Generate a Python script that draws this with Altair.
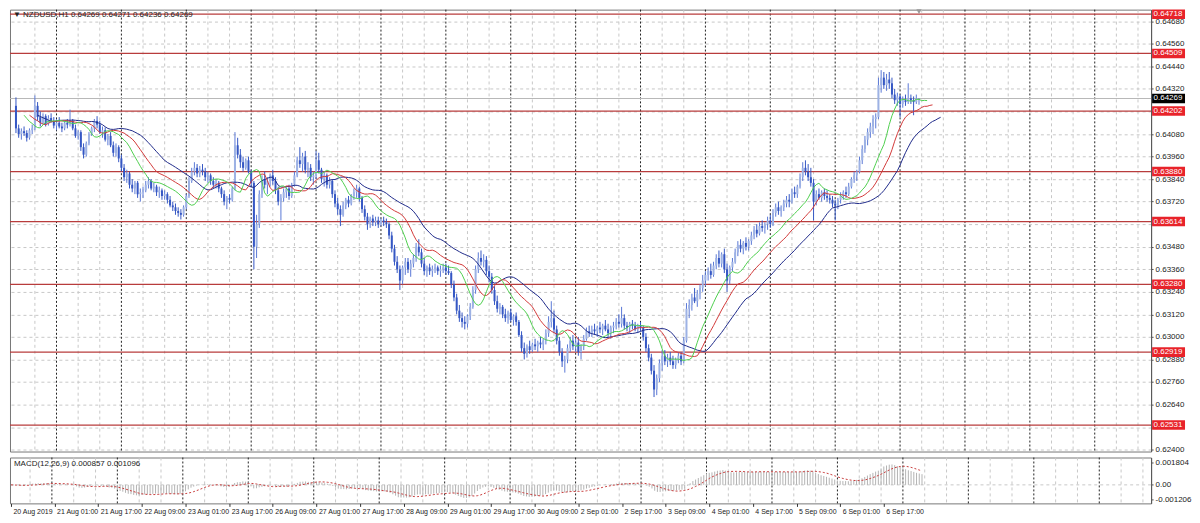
import altair as alt
import pandas as pd
import numpy as np

# ---------------- data (prices as 0.60000 + value * 0.00001) ----------------
opens = [
    4230, 4110, 4080, 4095, 4085, 4060, 4100, 4110, 4230, 4170, 4140, 4175, 4135, 4165, 4150, 4125,
    4140, 4120, 4110, 4140, 4130, 4150, 4110, 4070, 4090, 4010, 3970, 4030, 4080, 4110, 4150, 4130,
    4090, 4100, 4050, 4070, 4020, 3980, 4010, 3950, 3900, 3850, 3870, 3810, 3790, 3820, 3760, 3770,
    3780, 3810, 3830, 3790, 3800, 3770, 3780, 3750, 3760, 3730, 3700, 3690, 3670, 3660, 3650, 3690,
    3750, 3830, 3880, 3900, 3870, 3890, 3880, 3850, 3860, 3830, 3810, 3820, 3790, 3760, 3720, 3740,
    3730, 3790, 4020, 3970, 3930, 3900, 3940, 3880, 3820, 3480, 3600, 3760, 3840, 3810, 3830, 3860,
    3830, 3780, 3720, 3740, 3770, 3790, 3750, 3810, 3860, 3940, 3920, 3960, 3890, 3900, 3850, 3860,
    3940, 3890, 3840, 3860, 3810, 3830, 3760, 3710, 3680, 3650, 3700, 3730, 3710, 3750, 3770, 3790,
    3740, 3680, 3640, 3600, 3630, 3610, 3620, 3600, 3620, 3610, 3600, 3540, 3470, 3400, 3360, 3300,
    3370, 3400, 3360, 3390, 3420, 3480, 3450, 3390, 3350, 3370, 3350, 3360, 3370, 3350, 3360, 3370,
    3350, 3340, 3280, 3210, 3140, 3100, 3080, 3070, 3110, 3160, 3250, 3360, 3420, 3400, 3410, 3350,
    3320, 3250, 3190, 3150, 3160, 3120, 3100, 3130, 3090, 3110, 3080, 3010, 2940, 2910, 2950, 2930,
    2960, 2950, 2970, 2960, 2980, 3020, 3080, 3100, 3040, 2980, 2920, 2870, 2880, 2940, 2980, 2950,
    2970, 2920, 2950, 2990, 3030, 3020, 3040, 3030, 3050, 3040, 3060, 3040, 3020, 3050, 3060, 3080,
    3070, 3100, 3060, 3050, 3070, 3060, 3040, 3060, 3050, 3000, 2940, 2890, 2820, 2720, 2780, 2860,
    2900, 2870, 2890, 2870, 2850, 2880, 2900, 2870, 2980, 3150, 3170, 3210, 3190, 3230, 3260, 3300,
    3330, 3350, 3330, 3380, 3420, 3390, 3440, 3360, 3300, 3370, 3400, 3450, 3490, 3470, 3500, 3480,
    3510, 3540, 3570, 3550, 3590, 3580, 3600, 3620, 3600, 3660, 3690, 3670, 3690, 3710, 3730, 3720,
    3770, 3760, 3800, 3850, 3900, 3880, 3850, 3820, 3720, 3760, 3740, 3770, 3750, 3740, 3730, 3710,
    3700, 3730, 3750, 3770, 3760, 3800, 3840, 3860, 3880, 3940, 4000, 4050, 4090, 4120, 4160, 4170,
    4340, 4380, 4340, 4370, 4350, 4290, 4260, 4280, 4240, 4260, 4250, 4270, 4260, 4250, 4269,
]
highs = [
    4275, 4130, 4110, 4120, 4100, 4110, 4130, 4285, 4250, 4200, 4190, 4185, 4180, 4190, 4170, 4160,
    4170, 4140, 4150, 4160, 4210, 4160, 4130, 4100, 4100, 4030, 4040, 4090, 4120, 4160, 4175, 4150,
    4120, 4115, 4080, 4090, 4040, 4030, 4020, 3970, 3920, 3890, 3880, 3840, 3830, 3830, 3790, 3800,
    3830, 3850, 3840, 3820, 3810, 3800, 3790, 3780, 3770, 3750, 3720, 3710, 3690, 3680, 3700, 3760,
    3850, 3900, 3930, 3920, 3910, 3920, 3900, 3880, 3870, 3850, 3840, 3830, 3800, 3780, 3750, 3760,
    3800, 4090, 4060, 4000, 3960, 3950, 3960, 3890, 3830, 3650, 3780, 3860, 3880, 3850, 3870, 3890,
    3850, 3800, 3760, 3790, 3800, 3810, 3820, 3880, 3960, 4010, 3980, 3990, 3930, 3920, 3880, 3990,
    3980, 3900, 3880, 3870, 3850, 3840, 3780, 3740, 3700, 3720, 3740, 3750, 3760, 3790, 3810, 3800,
    3750, 3700, 3660, 3640, 3650, 3640, 3640, 3630, 3640, 3630, 3610, 3560, 3490, 3430, 3380, 3380,
    3420, 3420, 3410, 3440, 3500, 3520, 3470, 3420, 3380, 3390, 3380, 3390, 3380, 3380, 3390, 3390,
    3380, 3350, 3300, 3230, 3170, 3130, 3110, 3120, 3180, 3270, 3380, 3450, 3460, 3440, 3430, 3380,
    3340, 3270, 3220, 3180, 3170, 3150, 3140, 3150, 3120, 3130, 3090, 3030, 2970, 2960, 2980, 2970,
    2990, 2980, 3000, 2990, 3040, 3110, 3190, 3140, 3060, 3000, 2940, 2900, 2960, 3000, 3010, 2990,
    3000, 2960, 3010, 3050, 3060, 3060, 3070, 3060, 3080, 3070, 3090, 3070, 3060, 3080, 3100, 3120,
    3160, 3120, 3080, 3080, 3090, 3080, 3070, 3080, 3060, 3020, 2960, 2910, 2850, 2800, 2880, 2930,
    2930, 2910, 2920, 2900, 2890, 2920, 2920, 3000, 3180, 3200, 3230, 3260, 3250, 3280, 3330, 3350,
    3370, 3390, 3400, 3440, 3460, 3450, 3470, 3390, 3380, 3420, 3470, 3510, 3520, 3510, 3530, 3520,
    3560, 3590, 3600, 3610, 3620, 3610, 3640, 3650, 3680, 3710, 3720, 3700, 3730, 3750, 3760, 3790,
    3800, 3810, 3870, 3930, 3940, 3920, 3900, 3840, 3780, 3790, 3780, 3790, 3780, 3760, 3750, 3730,
    3740, 3770, 3780, 3800, 3820, 3850, 3880, 3890, 3960, 4020, 4070, 4110, 4140, 4180, 4190, 4380,
    4420, 4410, 4400, 4410, 4380, 4320, 4300, 4290, 4280, 4290, 4350, 4290, 4280, 4290, 4271,
]
lows = [
    4085, 4060, 4050, 4070, 4040, 4050, 4080, 4100, 4150, 4120, 4130, 4120, 4125, 4140, 4110, 4100,
    4110, 4090, 4100, 4110, 4120, 4100, 4060, 4050, 3990, 3950, 3960, 4020, 4070, 4090, 4110, 4080,
    4060, 4040, 4020, 4010, 3960, 3960, 3930, 3880, 3830, 3820, 3790, 3770, 3760, 3740, 3720, 3740,
    3770, 3790, 3780, 3770, 3750, 3740, 3730, 3730, 3710, 3690, 3670, 3650, 3640, 3625, 3640, 3680,
    3740, 3820, 3860, 3850, 3850, 3860, 3830, 3820, 3810, 3790, 3790, 3770, 3740, 3700, 3680, 3710,
    3720, 3780, 3950, 3900, 3880, 3890, 3870, 3800, 3360, 3420, 3580, 3740, 3790, 3760, 3800, 3810,
    3760, 3700, 3620, 3720, 3740, 3730, 3740, 3800, 3850, 3900, 3880, 3870, 3850, 3830, 3810, 3840,
    3870, 3820, 3800, 3790, 3790, 3740, 3690, 3650, 3590, 3640, 3680, 3690, 3700, 3730, 3740, 3720,
    3660, 3620, 3570, 3580, 3590, 3590, 3580, 3590, 3590, 3580, 3520, 3450, 3380, 3340, 3250, 3280,
    3330, 3340, 3320, 3370, 3400, 3430, 3370, 3330, 3320, 3330, 3320, 3340, 3330, 3320, 3340, 3330,
    3330, 3260, 3190, 3120, 3080, 3050, 3040, 3050, 3090, 3150, 3230, 3340, 3380, 3370, 3330, 3290,
    3230, 3170, 3130, 3120, 3100, 3080, 3070, 3080, 3060, 3060, 3000, 2920, 2880, 2890, 2910, 2920,
    2930, 2920, 2940, 2930, 2960, 3000, 3050, 3020, 2960, 2900, 2840, 2810, 2860, 2920, 2930, 2920,
    2900, 2880, 2930, 2980, 3000, 3000, 3010, 3000, 3020, 3010, 3030, 3000, 2990, 3020, 3040, 3050,
    3050, 3040, 3030, 3020, 3040, 3030, 3020, 3030, 2980, 2920, 2870, 2800, 2680, 2690, 2760, 2820,
    2850, 2840, 2850, 2830, 2830, 2860, 2850, 2860, 2970, 3100, 3140, 3180, 3160, 3200, 3240, 3270,
    3300, 3310, 3320, 3360, 3370, 3370, 3340, 3240, 3280, 3350, 3390, 3430, 3450, 3440, 3460, 3460,
    3490, 3520, 3530, 3540, 3560, 3550, 3570, 3580, 3590, 3640, 3650, 3640, 3670, 3690, 3690, 3710,
    3740, 3740, 3790, 3830, 3860, 3830, 3800, 3620, 3700, 3730, 3720, 3730, 3720, 3710, 3690, 3620,
    3680, 3710, 3730, 3740, 3750, 3790, 3820, 3830, 3870, 3920, 3980, 4020, 4060, 4080, 4110, 4160,
    4300, 4320, 4310, 4320, 4270, 4240, 4230, 4170, 4220, 4230, 4240, 4240, 4180, 4240, 4236,
]
closes = [
    4110, 4080, 4095, 4085, 4060, 4100, 4110, 4230, 4170, 4140, 4175, 4135, 4165, 4150, 4125, 4140,
    4120, 4110, 4140, 4130, 4150, 4110, 4070, 4090, 4010, 3970, 4030, 4080, 4110, 4150, 4130, 4090,
    4100, 4050, 4070, 4020, 3980, 4010, 3950, 3900, 3850, 3870, 3810, 3790, 3820, 3760, 3770, 3780,
    3810, 3830, 3790, 3800, 3770, 3780, 3750, 3760, 3730, 3700, 3690, 3670, 3660, 3650, 3690, 3750,
    3830, 3880, 3900, 3870, 3890, 3880, 3850, 3860, 3830, 3810, 3820, 3790, 3760, 3720, 3740, 3730,
    3790, 4020, 3970, 3930, 3900, 3940, 3880, 3820, 3480, 3600, 3760, 3840, 3810, 3830, 3860, 3830,
    3780, 3720, 3740, 3770, 3790, 3750, 3810, 3860, 3940, 3920, 3960, 3890, 3900, 3850, 3860, 3940,
    3890, 3840, 3860, 3810, 3830, 3760, 3710, 3680, 3650, 3700, 3730, 3710, 3750, 3770, 3790, 3740,
    3680, 3640, 3600, 3630, 3610, 3620, 3600, 3620, 3610, 3600, 3540, 3470, 3400, 3360, 3300, 3370,
    3400, 3360, 3390, 3420, 3480, 3450, 3390, 3350, 3370, 3350, 3360, 3370, 3350, 3360, 3370, 3350,
    3340, 3280, 3210, 3140, 3100, 3080, 3070, 3110, 3160, 3250, 3360, 3420, 3400, 3410, 3350, 3320,
    3250, 3190, 3150, 3160, 3120, 3100, 3130, 3090, 3110, 3080, 3010, 2940, 2910, 2950, 2930, 2960,
    2950, 2970, 2960, 2980, 3020, 3080, 3100, 3040, 2980, 2920, 2870, 2880, 2940, 2980, 2950, 2970,
    2920, 2950, 2990, 3030, 3020, 3040, 3030, 3050, 3040, 3060, 3040, 3020, 3050, 3060, 3080, 3070,
    3100, 3060, 3050, 3070, 3060, 3040, 3060, 3050, 3000, 2940, 2890, 2820, 2720, 2780, 2860, 2900,
    2870, 2890, 2870, 2850, 2880, 2900, 2870, 2980, 3150, 3170, 3210, 3190, 3230, 3260, 3300, 3330,
    3350, 3330, 3380, 3420, 3390, 3440, 3360, 3300, 3370, 3400, 3450, 3490, 3470, 3500, 3480, 3510,
    3540, 3570, 3550, 3590, 3580, 3600, 3620, 3600, 3660, 3690, 3670, 3690, 3710, 3730, 3720, 3770,
    3760, 3800, 3850, 3900, 3880, 3850, 3820, 3720, 3760, 3740, 3770, 3750, 3740, 3730, 3710, 3700,
    3730, 3750, 3770, 3760, 3800, 3840, 3860, 3880, 3940, 4000, 4050, 4090, 4120, 4160, 4170, 4340,
    4380, 4340, 4370, 4350, 4290, 4260, 4280, 4240, 4260, 4250, 4270, 4260, 4250, 4269, 4269,
]

levels = [0.64718, 0.64509, 0.64202, 0.63880, 0.63614, 0.63280, 0.62919, 0.62531]
current_price = 0.64269
price_ticks = [0.64680, 0.64560, 0.64440, 0.64320, 0.64200, 0.64080, 0.63960, 0.63840,
               0.63720, 0.63600, 0.63480, 0.63360, 0.63240, 0.63120, 0.63000, 0.62880,
               0.62760, 0.62640, 0.62520, 0.62400]
time_labels = ["20 Aug 2019", "21 Aug 01:00", "21 Aug 17:00", "22 Aug 09:00", "23 Aug 01:00",
               "23 Aug 17:00", "26 Aug 09:00", "27 Aug 01:00", "27 Aug 17:00", "28 Aug 09:00",
               "29 Aug 01:00", "29 Aug 17:00", "30 Aug 09:00", "2 Sep 01:00", "2 Sep 17:00",
               "3 Sep 09:00", "4 Sep 01:00", "4 Sep 17:00", "5 Sep 09:00", "6 Sep 01:00",
               "6 Sep 17:00"]
macd_ticks = [0.001804, 0.0, -0.001206]
macd_tick_labels = ["0.001804", "0.00", "-0.001206"]
title_text = "NZDUSD,H1  0.64269 0.64271 0.64236 0.64269"
macd_text = "MACD(12,26,9) 0.000857 0.001096"

# ---------------- frames ----------------
def px(v):
    return np.round(0.6 + np.asarray(v, dtype=float) / 1e5, 5)

n = len(closes)
idx = np.arange(n)
O, H, L, C = px(opens), px(highs), px(lows), px(closes)
bars = pd.DataFrame({"i": idx, "o": O, "h": H, "l": L, "c": C})
bars_up = bars[bars.c >= bars.o]
bars_dn = bars[bars.c < bars.o]

# Alligator (SMMA of median price with forward shifts)
med = (H + L) / 2
def smma(x, p):
    out = np.empty(len(x))
    out[0] = x[0]
    for k in range(1, len(x)):
        out[k] = (out[k - 1] * (p - 1) + x[k]) / p
    return out
jaw = pd.DataFrame({"i": idx + 8, "v": smma(med, 13)})
teeth = pd.DataFrame({"i": idx + 5, "v": smma(med, 8)})
lips = pd.DataFrame({"i": idx + 3, "v": smma(med, 5)})

# MACD(12,26,9)
cs = pd.Series(C)
macd_main = cs.ewm(span=12, adjust=False).mean() - cs.ewm(span=26, adjust=False).mean()
macd_sig = macd_main.rolling(9, min_periods=1).mean()
macd = pd.DataFrame({"i": idx, "m": macd_main.values, "s": macd_sig.values, "z": 0.0})

X_DOMAIN = [-0.36, 418]
grid_gray = pd.DataFrame({"i": [k for k in range(7, 418, 8) if (k - 15) % 24 != 0]})
grid_black = pd.DataFrame({"i": [k for k in range(15, 418, 24)]})

# price-axis labels hidden behind a level's red tag (as in the reference)
hidden = [t for t in price_ticks if any(abs(t - lv) < 0.0002 for lv in levels)]
hidden_arr = "[" + ",".join(f"{t:.5f}" for t in hidden) + "]"

W = 1144
H_MAIN = 443
H_MACD = 46
FONT = "Liberation Sans"

xscale = alt.Scale(domain=X_DOMAIN, nice=False, zero=False)
yscale = alt.Scale(domain=[0.62390, 0.64742], nice=False, zero=False)
yaxis = alt.Axis(orient="right", values=price_ticks, format=".5f",
                 labelExpr="indexof(" + hidden_arr + ", round(datum.value * 100000) / 100000) >= 0 ? '' : datum.label",
                 grid=True, gridColor="#c8c8c8", gridDash=[3, 3], tickSize=2, labelPadding=2,
                 labelFontSize=8, labelFont=FONT, labelColor="#222", domainColor="#555",
                 tickColor="#555", labelOverlap=False, labelBound=False, title=None)

def X(f="i"):
    return alt.X(f"{f}:Q", scale=xscale, axis=None)

def Y(f):
    return alt.Y(f"{f}:Q", scale=yscale, axis=yaxis)

vg = alt.Chart(grid_gray).mark_rule(color="#c8c8c8", strokeDash=[3, 3], strokeWidth=1).encode(x=X())
vb = alt.Chart(grid_black).mark_rule(color="#222", strokeDash=[2, 2], strokeWidth=1).encode(x=X())

lv = pd.DataFrame({"level": levels})
level_lines = alt.Chart(lv).mark_rule(color="#b83c3c", strokeWidth=1.2).encode(y=Y("level"))
cur = pd.DataFrame({"p": [current_price]})
cur_line = alt.Chart(cur).mark_rule(color="#b8b8b8", strokeWidth=1).encode(y=Y("p"))

wick_up = alt.Chart(bars_up).mark_rule(color="#5a78d6", strokeWidth=1).encode(x=X(), y=Y("l"), y2="h")
wick_dn = alt.Chart(bars_dn).mark_rule(color="#3557c4", strokeWidth=1).encode(x=X(), y=Y("l"), y2="h")
body_up = alt.Chart(bars_up).mark_bar(color="#9db2e4", size=2).encode(x=X(), y=Y("o"), y2="c")
body_dn = alt.Chart(bars_dn).mark_bar(color="#3557c4", size=2).encode(x=X(), y=Y("o"), y2="c")

l_jaw = alt.Chart(jaw).mark_line(color="#1f2a8a", strokeWidth=1).encode(x=X(), y=Y("v"))
l_teeth = alt.Chart(teeth).mark_line(color="#d23a3a", strokeWidth=1).encode(x=X(), y=Y("v"))
l_lips = alt.Chart(lips).mark_line(color="#4fcf4f", strokeWidth=1).encode(x=X(), y=Y("v"))

BOX = "M-1,-0.29H1V0.29H-1Z"
lab_box = alt.Chart(lv).mark_point(shape=BOX, filled=True, size=33 * 33, color="#e8232a",
                                   opacity=1, strokeWidth=0).encode(x=alt.value(W + 17.5), y=Y("level"))
lab_txt = alt.Chart(lv).mark_text(align="left", baseline="middle", color="white", fontSize=8,
                                  font=FONT).encode(x=alt.value(W + 2.5), y=Y("level"),
                                                    text=alt.Text("level:Q", format=".5f"))
cur_box = alt.Chart(cur).mark_point(shape=BOX, filled=True, size=33 * 33, color="#000",
                                    opacity=1, strokeWidth=0).encode(x=alt.value(W + 17.5), y=Y("p"))
cur_txt = alt.Chart(cur).mark_text(align="left", baseline="middle", color="white", fontSize=8,
                                   font=FONT).encode(x=alt.value(W + 2.5), y=Y("p"),
                                                     text=alt.Text("p:Q", format=".5f"))

ttl = alt.Chart(pd.DataFrame({"t": ["\u25bc " + title_text]})).mark_text(
    align="left", baseline="middle", fontSize=8, font=FONT, color="#222"
).encode(x=alt.value(3), y=alt.value(5), text="t:N")

shift_mark = alt.Chart(pd.DataFrame({"i": [n - 1]})).mark_point(
    shape="triangle-down", filled=True, color="#999", size=28, opacity=1
).encode(x=X(), y=alt.value(2))

main = alt.layer(
    vg, vb, cur_line, level_lines,
    wick_up, wick_dn, body_up, body_dn,
    l_jaw, l_teeth, l_lips,
    lab_box, lab_txt, cur_box, cur_txt, ttl, shift_mark,
).properties(width=W, height=H_MAIN)

# ---------------- MACD panel ----------------
myscale = alt.Scale(domain=[-0.00149, 0.00220], nice=False, zero=False)
label_arr = "[" + ",".join("'" + s + "'" for s in time_labels) + "]"
xaxis_b = alt.Axis(values=[16 * k for k in range(len(time_labels))],
                   labelExpr=label_arr + "[round(datum.value / 16)]",
                   labelAlign="left", labelOffset=2, labelPadding=1, tickSize=3,
                   labelFontSize=7, labelFont=FONT,
                   labelColor="#222", tickColor="#333", domain=False, grid=False,
                   labelOverlap=False, labelBound=False, title=None)
mt_arr = "[" + ",".join("'" + s + "'" for s in macd_tick_labels) + "]"
mt_vals = "[" + ",".join(repr(v) for v in macd_ticks) + "]"
myaxis = alt.Axis(orient="right", values=macd_ticks,
                  labelExpr=mt_arr + "[indexof(" + mt_vals + ", datum.value)]",
                  tickSize=2, labelPadding=2, labelFontSize=8, labelFont=FONT,
                  labelColor="#222", tickColor="#555", domainColor="#555", grid=False,
                  labelOverlap=False, labelBound=False, title=None)

def MX(f="i"):
    return alt.X(f"{f}:Q", scale=xscale, axis=xaxis_b)

def MY(f):
    return alt.Y(f"{f}:Q", scale=myscale, axis=myaxis)

mvg = alt.Chart(grid_gray).mark_rule(color="#c8c8c8", strokeDash=[3, 3]).encode(x=MX())
mvb = alt.Chart(grid_black).mark_rule(color="#222", strokeDash=[2, 2]).encode(x=MX())
zero_line = alt.Chart(pd.DataFrame({"z": [0.0]})).mark_rule(
    color="#c8c8c8", strokeDash=[3, 3]).encode(y=MY("z"))
hist = alt.Chart(macd).mark_rule(color="#b4b4b4", strokeWidth=1, clip=True).encode(
    x=MX(), y=MY("m"), y2="z")
sig = alt.Chart(macd).mark_line(color="#c83c3c", strokeWidth=1, strokeDash=[2, 2], clip=True).encode(
    x=MX(), y=MY("s"))
mtxt = alt.Chart(pd.DataFrame({"t": [macd_text]})).mark_text(
    align="left", baseline="middle", fontSize=8, font=FONT, color="#222"
).encode(x=alt.value(4), y=alt.value(7), text="t:N")

macd_panel = alt.layer(mvg, mvb, zero_line, hist, sig, mtxt).properties(width=W, height=H_MACD)

chart = alt.vconcat(main, macd_panel, spacing=2).properties(
    padding=0, background="white"
).configure_view(stroke="#777", strokeWidth=1)

chart.save("out.html", embed_options={"renderer": "svg", "actions": False})
